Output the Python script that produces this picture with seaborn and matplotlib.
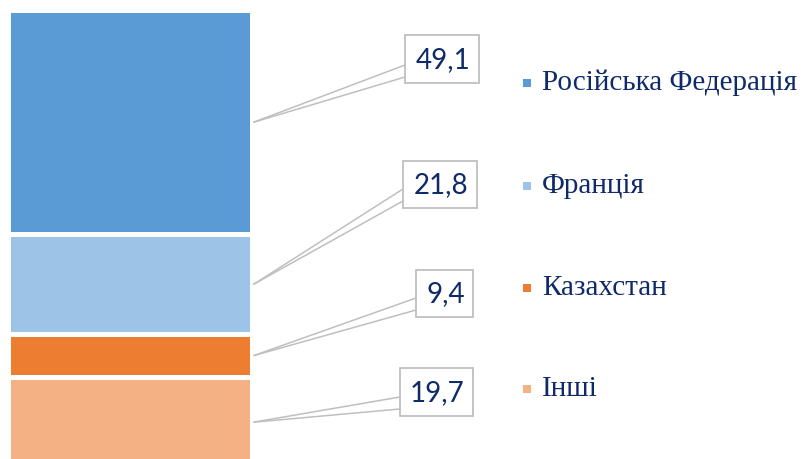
import matplotlib
matplotlib.use("Agg")
import matplotlib.pyplot as plt
from matplotlib.patches import Rectangle
import seaborn as sns
import pandas as pd
import numpy as np

# ---- data ----
categories = ["Інші", "Казахстан", "Франція", "Російська Федерація"]  # bottom -> top
values = [19.7, 9.4, 21.8, 49.1]
value_labels = ["19,7", "9,4", "21,8", "49,1"]
colors = ["#F4B183", "#ED7D31", "#9DC3E6", "#5B9BD5"]

legend_order = ["Російська Федерація", "Франція", "Казахстан", "Інші"]

sns.set_theme(style="white")
plt.rcParams["font.family"] = ["Lato", "DejaVu Sans"]

W, H = 804, 459
fig = plt.figure(figsize=(W / 100, H / 100), dpi=100)

# bar axes (pixel layout)
left_px, right_px = 7.5, 252.5
top_px, bot_px = 10, 459
ax = fig.add_axes([left_px / W, 1 - bot_px / H, (right_px - left_px) / W, (bot_px - top_px) / H])

df = pd.DataFrame({"cat": categories, "val": values})
bottoms = np.concatenate([[0], np.cumsum(values)[:-1]])
for i, row in df.iterrows():
    sns.barplot(x=["a"], y=[row["val"]], bottom=bottoms[i], color=colors[i],
                width=1.0, edgecolor="white", linewidth=3.6, saturation=1, ax=ax)
ax.set_xlim(-0.5, 0.5)
ax.set_ylim(1.8, 100)
ax.axis("off")

# overlay in pixel coords
ov = fig.add_axes([0, 0, 1, 1], zorder=5)
ov.set_xlim(0, W)
ov.set_ylim(H, 0)
ov.axis("off")
ov.patch.set_alpha(0)

text_color = "#0F2A69"
line_color = "#BFBFBF"

# box layout: (x0, y0, x1, y1, attach_y1, attach_y2) in pixels, bottom->top order
boxes = [
    (400, 368, 473, 416, 397, 409),
    (416, 270, 473, 317, 298, 310),
    (403, 161, 477, 208, 189, 201),
    (405, 35, 479, 83, 65, 77),
]

fig.canvas.draw()
for i in range(len(values)):
    mid = bottoms[i] + values[i] / 2
    dx, dy = ax.transData.transform((0.5, mid))
    sx = dx + 1
    sy = H - dy
    x0, y0, x1, y1, a1, a2 = boxes[i]
    ov.plot([sx, x0], [sy, a1], color=line_color, lw=1.1, solid_capstyle="butt", zorder=4)
    ov.plot([sx, x0], [sy, a2], color=line_color, lw=1.1, solid_capstyle="butt", zorder=4)
    ov.add_patch(Rectangle((x0, y0), x1 - x0, y1 - y0, facecolor="white",
                           edgecolor=line_color, lw=1.3, zorder=5))
    ov.text((x0 + x1) / 2 + 1, (y0 + y1) / 2 + 1, value_labels[i], ha="center", va="center",
            fontsize=20, color=text_color, family=["Lato", "DejaVu Sans"], zorder=6)

# legend
leg_y = [83, 186, 288, 389]
for name, y in zip(legend_order, leg_y):
    c = colors[categories.index(name)]
    ov.add_patch(Rectangle((523, y - 4), 8, 8, facecolor=c, edgecolor="none", zorder=5))
    ov.text(542, y, name, ha="left", va="center", fontsize=21, color=text_color,
            family=["Liberation Serif", "DejaVu Serif"], zorder=6)

fig.savefig("out.png", dpi=100)
